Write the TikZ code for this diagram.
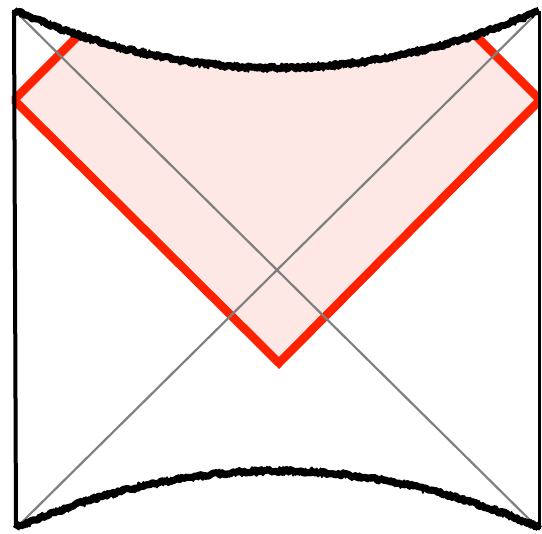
\documentclass[tikz,border=0pt]{standalone}
\definecolor{WedgeRed}{RGB}{255,34,0}
\definecolor{WedgeFill}{RGB}{253,232,230}
\definecolor{Diag}{RGB}{128,128,128}
\tikzset{
  boundary/.style={draw=black,line width=4pt},
  horizon/.style={draw=Diag,line width=2.2pt},
  wedge/.style={draw=WedgeRed,line width=8.5pt,line join=miter},
  wedgefill/.style={fill=WedgeFill},
  singular/.style={draw=black,line width=7pt,line join=round},
  singularthin/.style={draw=black,line width=2pt,line join=round}
}
\pgfmathsetseed{7}
\begin{document}
\begin{tikzpicture}[x=1pt,y=1pt]
  \useasboundingbox (0,0) rectangle (542,534);
  % corners of the diagram
  \coordinate (tl) at (14,524);
  \coordinate (tr) at (539,523);
  \coordinate (bl) at (16,6);
  \coordinate (br) at (539,5);
  % wedge vertices
  \coordinate (wl) at (14,434);
  \coordinate (wb) at (279,171);
  \coordinate (wr) at (540,434);
  % wedge, cut off by the future singularity
  \begin{scope}
    \clip plot[domain=14:539,samples=80] (\x,{466+((\x-277)*0.02890)^2}) -- (542,0) -- (0,0) -- cycle;
    \path[wedgefill] (wl) -- (wb) -- (wr) -- (440,534) -- (114,534) -- cycle;
    \draw[wedge] (104,524) -- (wl) -- (wb) -- (wr) -- (450,524);
  \end{scope}
  % horizons
  \draw[horizon] (tl) -- (br);
  \draw[horizon] (bl) -- (tr);
  % conformal boundaries
  \draw[boundary] (tl) -- (bl);
  \draw[boundary,line width=3pt] (tr) -- (br);
  % singularities
  \draw[singular] plot[domain=14:539,samples=260] (\x,{466+((\x-277)*0.02890)^2+1.6*rand});
  \draw[singularthin] plot[domain=14:539,samples=420] (\x,{466+((\x-277)*0.02890)^2+4.5*rand});
  \draw[singular] plot[domain=16:539,samples=260] (\x,{63-((\x-277.5)*0.02880)^2+1.6*rand});
  \draw[singularthin] plot[domain=16:539,samples=420] (\x,{63-((\x-277.5)*0.02880)^2+4.5*rand});
\end{tikzpicture}
\end{document}
